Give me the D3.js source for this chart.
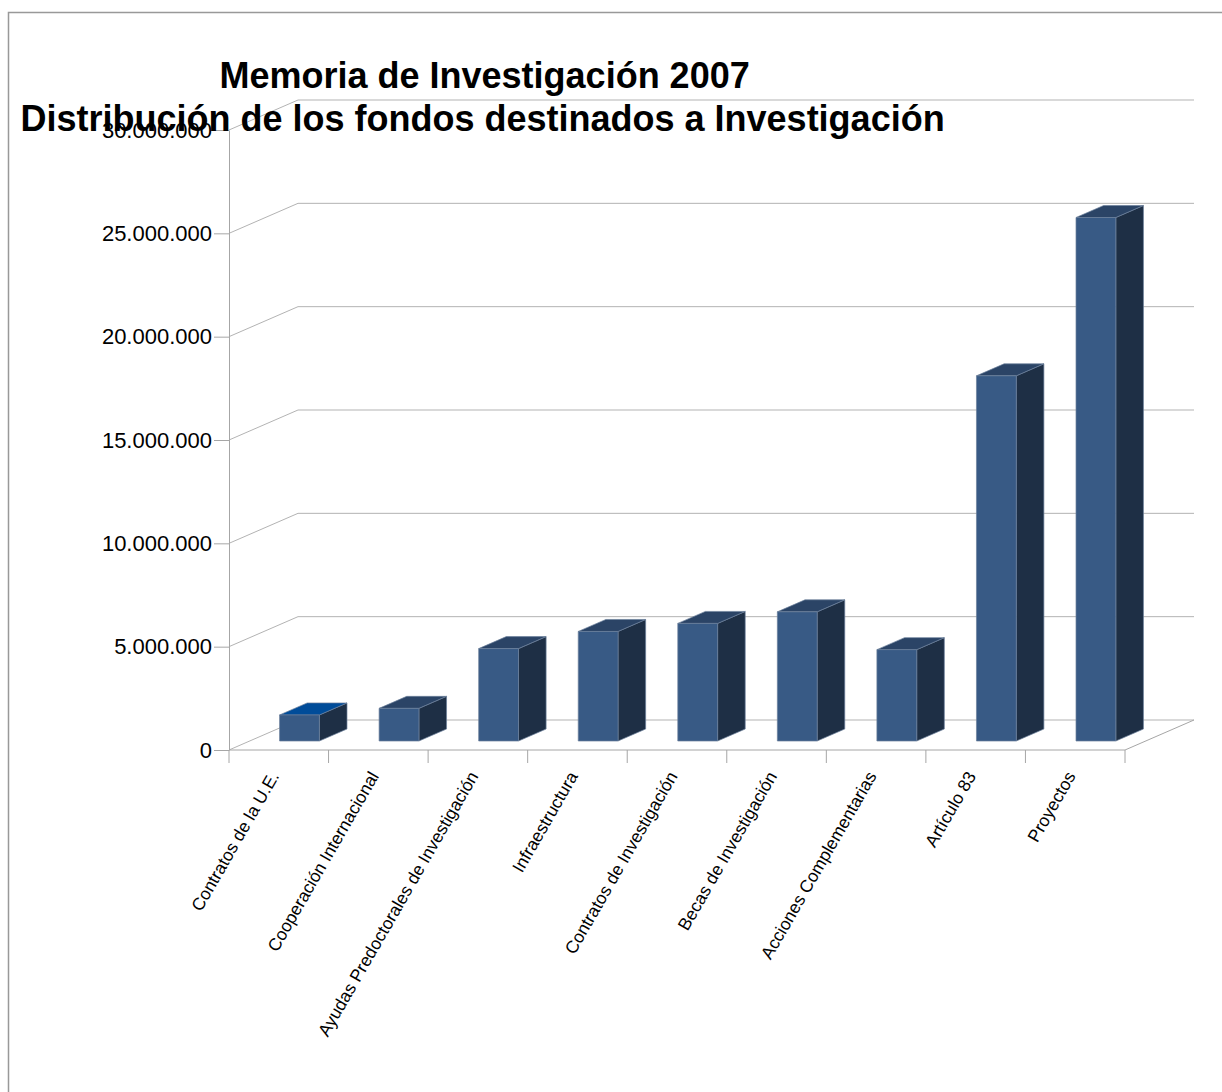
<!DOCTYPE html>
<html>
<head>
<meta charset="utf-8">
<script src="https://cdn.jsdelivr.net/npm/d3@7"></script>
<style>
  body { margin: 0; background: #fff; }
  text { font-family: "Liberation Sans", Arial, sans-serif; }
</style>
</head>
<body>
<div id="chart"></div>
<script>
const titleLines = ['Memoria de Investigación 2007', 'Distribución de los fondos destinados a Investigación']

const categories = [
    'Contratos de la U.E.',
    'Cooperación Internacional',
    'Ayudas Predoctorales de Investigación',
    'Infraestructura',
    'Contratos de Investigación',
    'Becas de Investigación',
    'Acciones Complementarias',
    'Artículo 83',
    'Proyectos'
]

const values = [1260000, 1580000, 4470000, 5300000, 5690000, 6250000, 4420000, 17670000, 25330000]

const yTicks = [0, 5000000, 10000000, 15000000, 20000000, 25000000, 30000000]

const renderChart = () => {

    const width = 1222
    const height = 1092

    // front plane of the 3d box and the shift to the back wall
    const front = { left: 229, right: 1125, bottom: 750, top: 130 }
    const depth = { dx: 69, dy: -30 }
    const barFront = 0.3 //bars start this far into the floor
    const barDepth = 0.4 //and are this deep

    const svg = d3.select('#chart')
        .append('svg')
            .attr('width', width)
            .attr('height', height)

    //outer border, runs off the right and bottom edge like the picture
    svg.append('rect')
        .attr('x', 8.5)
        .attr('y', 12.5)
        .attr('width', 1400)
        .attr('height', 1400)
        .attr('fill', 'none')
        .attr('stroke', '#999')
        .attr('stroke-width', 1.5)

    const xScale = d3.scaleBand()
        .domain(categories)
        .range([front.left, front.right])

    const yScale = d3.scaleLinear()
        .domain([0, 30000000])
        .range([front.bottom, front.top])

    const locale = d3.formatLocale({ decimal: ',', thousands: '.', grouping: [3], currency: ['', ' €'] })
    const fmt = locale.format(',')

    const grid = svg.append('g')
        .attr('fill', 'none')
        .attr('stroke', '#b3b3b3')
        .attr('stroke-width', 1)

    //back wall lines and left wall diagonals
    grid.selectAll('.back')
        .data(yTicks)
        .enter()
        .append('path')
            .attr('d', d => {
                const y = yScale(d)
                return `M${front.left},${y}L${front.left + depth.dx},${y + depth.dy}H${front.right + depth.dx}`
            })

    //right floor edge
    grid.append('path')
        .attr('d', `M${front.left},${front.bottom}H${front.right}L${front.right + depth.dx},${front.bottom + depth.dy}`)
        .attr('stroke', '#a6a6a6')

    //category separators under the floor
    const bw = xScale.bandwidth()
    const boundaries = d3.range(categories.length + 1).map(i => front.left + i * bw)
    grid.selectAll('.sep')
        .data(boundaries)
        .enter()
        .append('line')
            .attr('x1', d => d)
            .attr('x2', d => d)
            .attr('y1', front.bottom)
            .attr('y2', front.bottom + 13)
            .attr('stroke', '#a6a6a6')

    //y axis
    const yAxis = d3.axisLeft(yScale)
        .tickValues(yTicks)
        .tickFormat(fmt)
        .tickSize(15)
        .tickSizeOuter(0)
        .tickPadding(2)

    const yAxisG = svg.append('g')
        .attr('transform', `translate(${front.left}, 0)`)
        .call(yAxis)
    yAxisG.select('.domain').attr('stroke', '#a6a6a6')
    yAxisG.selectAll('.tick line').attr('stroke', '#a6a6a6')
    yAxisG.selectAll('.tick text')
        .attr('font-size', 22)
        .attr('fill', '#000')
        .style('font-family', '"Liberation Sans", Arial, sans-serif')

    //bars
    const barW = bw * 0.4
    const fx = barFront * depth.dx
    const fy = barFront * depth.dy
    const bdx = barDepth * depth.dx
    const bdy = barDepth * depth.dy

    const bars = svg.append('g')
        .selectAll('g')
        .data(categories.map((c, i) => ({ cat: c, value: values[i], i })))
        .enter()
        .append('g')
            .attr('stroke', '#6b7f9b')
            .attr('stroke-width', 0.7)
            .attr('stroke-linejoin', 'round')

    bars.append('path') //side face
        .attr('fill', '#1e2f45')
        .attr('d', d => {
            const x = xScale(d.cat) + (bw - barW) / 2 + fx + barW
            const y0 = yScale(0) + fy
            const y1 = yScale(d.value) + fy
            return `M${x},${y0}V${y1}l${bdx},${bdy}V${y0 + bdy}Z`
        })

    bars.append('path') //top face
        .attr('fill', d => d.i === 0 ? '#004c99' : '#2b4466')
        .attr('d', d => {
            const x = xScale(d.cat) + (bw - barW) / 2 + fx
            const y1 = yScale(d.value) + fy
            return `M${x},${y1}l${bdx},${bdy}h${barW}l${-bdx},${-bdy}Z`
        })

    bars.append('rect') //front face
        .attr('fill', '#385a85')
        .attr('x', d => xScale(d.cat) + (bw - barW) / 2 + fx)
        .attr('y', d => yScale(d.value) + fy)
        .attr('width', barW)
        .attr('height', d => yScale(0) - yScale(d.value))

    //category labels
    const xAxis = d3.axisBottom(xScale)
        .tickSize(0)
        .tickSizeOuter(0)

    const xAxisG = svg.append('g')
        .attr('transform', `translate(0, ${front.bottom})`)
        .call(xAxis)
    xAxisG.select('.domain').remove()
    xAxisG.selectAll('.tick text')
        .attr('x', 0)
        .attr('y', 0)
        .attr('dy', 0)
        .attr('text-anchor', 'end')
        .attr('transform', 'translate(1, 26) rotate(-60)')
        .attr('font-size', 17.5)
        .attr('fill', '#000')
        .style('font-family', '"Liberation Sans", Arial, sans-serif')

    //title
    svg.append('text')
        .attr('x', 219.5)
        .attr('y', 87.5)
        .attr('font-size', 36)
        .attr('font-weight', 'bold')
        .text(titleLines[0])

    svg.append('text')
        .attr('x', 20.5)
        .attr('y', 130.5)
        .attr('font-size', 36)
        .attr('font-weight', 'bold')
        .text(titleLines[1])
}

renderChart()
</script>
</body>
</html>
